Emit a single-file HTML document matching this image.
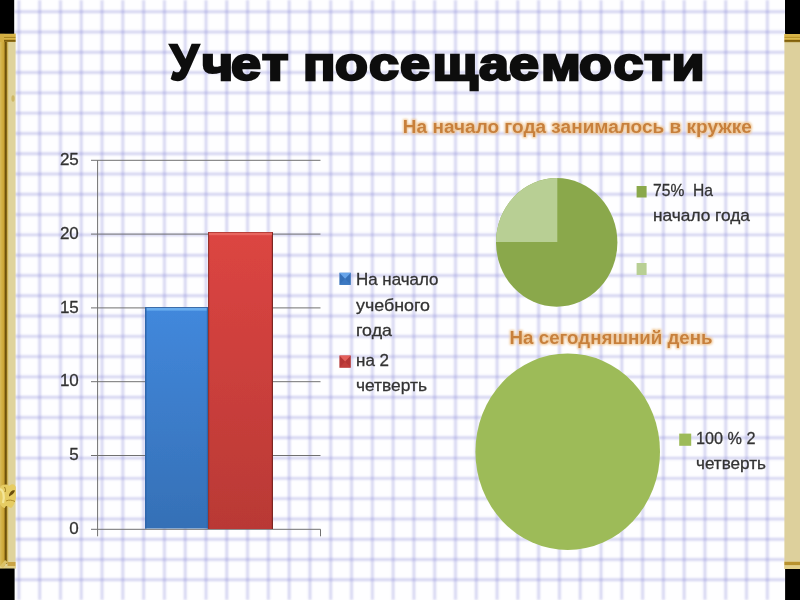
<!DOCTYPE html>
<html lang="ru"><head><meta charset="utf-8"><title>Учет посещаемости</title>
<style>
html,body{margin:0;padding:0;background:#000;}
body{width:800px;height:600px;overflow:hidden;}
svg{display:block;font-family:"Liberation Sans",sans-serif;}
</style></head><body>
<svg width="800" height="600" viewBox="0 0 800 600">
<defs>
<filter id="b1" x="-5%" y="-5%" width="110%" height="110%"><feGaussianBlur stdDeviation="0.85"/></filter>
<filter id="b2" x="-5%" y="-5%" width="110%" height="110%"><feGaussianBlur stdDeviation="0.5"/></filter>
<filter id="tglow" x="-5%" y="-40%" width="110%" height="180%"><feMorphology in="SourceAlpha" operator="dilate" radius="0.7" result="d"/><feGaussianBlur in="d" stdDeviation="1.2" result="g"/><feFlood flood-color="#f0c896"/><feComposite in2="g" operator="in" result="gc"/><feGaussianBlur in="SourceGraphic" stdDeviation="0.45" result="s"/><feMerge><feMergeNode in="gc"/><feMergeNode in="s"/></feMerge></filter>
<linearGradient id="gb" x1="0" y1="0" x2="0" y2="1"><stop offset="0" stop-color="#4288dc"/><stop offset="1" stop-color="#3570b6"/></linearGradient>
<linearGradient id="gr" x1="0" y1="0" x2="0" y2="1"><stop offset="0" stop-color="#dc4542"/><stop offset="1" stop-color="#b93935"/></linearGradient>
<linearGradient id="gold" x1="0" y1="0" x2="1" y2="0"><stop offset="0" stop-color="#d9bb55"/><stop offset="0.28" stop-color="#c9a63c"/><stop offset="0.3" stop-color="#8a6a14"/><stop offset="0.48" stop-color="#a8862a"/><stop offset="0.5" stop-color="#e0d29c"/><stop offset="1" stop-color="#d8ca92"/></linearGradient>
<linearGradient id="goldL" x1="0" y1="0" x2="1" y2="0"><stop offset="0" stop-color="#dcc268"/><stop offset="0.5" stop-color="#d2b044"/><stop offset="1" stop-color="#c59c2c"/></linearGradient>
<linearGradient id="darkL" x1="0" y1="0" x2="1" y2="0"><stop offset="0" stop-color="#5e4206"/><stop offset="1" stop-color="#93751e"/></linearGradient>
<linearGradient id="bandT" x1="0" y1="0" x2="0" y2="1"><stop offset="0" stop-color="#d9b84e"/><stop offset="0.38" stop-color="#d2ab3e"/><stop offset="0.46" stop-color="#a8841e"/><stop offset="0.55" stop-color="#dcbc50"/><stop offset="0.7" stop-color="#caa236"/><stop offset="0.8" stop-color="#7a5a0c"/><stop offset="1" stop-color="#9a7a20"/></linearGradient>
<linearGradient id="bandB" x1="0" y1="0" x2="0" y2="1"><stop offset="0" stop-color="#d8c078"/><stop offset="0.12" stop-color="#b8922e"/><stop offset="0.45" stop-color="#b8922e"/><stop offset="0.55" stop-color="#e2cf8a"/><stop offset="1" stop-color="#e2cf8a"/></linearGradient>
</defs>
<rect width="800" height="600" fill="#000"/>
<!-- paper -->
<rect x="14" y="0" width="771.5" height="600" fill="#fefeff"/>
<g stroke="#8888d8" stroke-opacity="0.40" stroke-width="2.4" filter="url(#b1)">
<line x1="18.90" y1="0" x2="18.90" y2="600"/>
<line x1="39.69" y1="0" x2="39.69" y2="600"/>
<line x1="60.48" y1="0" x2="60.48" y2="600"/>
<line x1="81.27" y1="0" x2="81.27" y2="600"/>
<line x1="102.06" y1="0" x2="102.06" y2="600"/>
<line x1="122.85" y1="0" x2="122.85" y2="600"/>
<line x1="143.64" y1="0" x2="143.64" y2="600"/>
<line x1="164.43" y1="0" x2="164.43" y2="600"/>
<line x1="185.22" y1="0" x2="185.22" y2="600"/>
<line x1="206.01" y1="0" x2="206.01" y2="600"/>
<line x1="226.80" y1="0" x2="226.80" y2="600"/>
<line x1="247.59" y1="0" x2="247.59" y2="600"/>
<line x1="268.38" y1="0" x2="268.38" y2="600"/>
<line x1="289.17" y1="0" x2="289.17" y2="600"/>
<line x1="309.96" y1="0" x2="309.96" y2="600"/>
<line x1="330.75" y1="0" x2="330.75" y2="600"/>
<line x1="351.54" y1="0" x2="351.54" y2="600"/>
<line x1="372.33" y1="0" x2="372.33" y2="600"/>
<line x1="393.12" y1="0" x2="393.12" y2="600"/>
<line x1="413.91" y1="0" x2="413.91" y2="600"/>
<line x1="434.70" y1="0" x2="434.70" y2="600"/>
<line x1="455.49" y1="0" x2="455.49" y2="600"/>
<line x1="476.28" y1="0" x2="476.28" y2="600"/>
<line x1="497.07" y1="0" x2="497.07" y2="600"/>
<line x1="517.86" y1="0" x2="517.86" y2="600"/>
<line x1="538.65" y1="0" x2="538.65" y2="600"/>
<line x1="559.44" y1="0" x2="559.44" y2="600"/>
<line x1="580.23" y1="0" x2="580.23" y2="600"/>
<line x1="601.02" y1="0" x2="601.02" y2="600"/>
<line x1="621.81" y1="0" x2="621.81" y2="600"/>
<line x1="642.60" y1="0" x2="642.60" y2="600"/>
<line x1="663.39" y1="0" x2="663.39" y2="600"/>
<line x1="684.18" y1="0" x2="684.18" y2="600"/>
<line x1="704.97" y1="0" x2="704.97" y2="600"/>
<line x1="725.76" y1="0" x2="725.76" y2="600"/>
<line x1="746.55" y1="0" x2="746.55" y2="600"/>
<line x1="767.34" y1="0" x2="767.34" y2="600"/>
<line x1="14" y1="11.70" x2="786" y2="11.70"/>
<line x1="14" y1="31.99" x2="786" y2="31.99"/>
<line x1="14" y1="52.28" x2="786" y2="52.28"/>
<line x1="14" y1="72.57" x2="786" y2="72.57"/>
<line x1="14" y1="92.86" x2="786" y2="92.86"/>
<line x1="14" y1="113.15" x2="786" y2="113.15"/>
<line x1="14" y1="133.44" x2="786" y2="133.44"/>
<line x1="14" y1="153.73" x2="786" y2="153.73"/>
<line x1="14" y1="174.02" x2="786" y2="174.02"/>
<line x1="14" y1="194.31" x2="786" y2="194.31"/>
<line x1="14" y1="214.60" x2="786" y2="214.60"/>
<line x1="14" y1="234.89" x2="786" y2="234.89"/>
<line x1="14" y1="255.18" x2="786" y2="255.18"/>
<line x1="14" y1="275.47" x2="786" y2="275.47"/>
<line x1="14" y1="295.76" x2="786" y2="295.76"/>
<line x1="14" y1="316.05" x2="786" y2="316.05"/>
<line x1="14" y1="336.34" x2="786" y2="336.34"/>
<line x1="14" y1="356.63" x2="786" y2="356.63"/>
<line x1="14" y1="376.92" x2="786" y2="376.92"/>
<line x1="14" y1="397.21" x2="786" y2="397.21"/>
<line x1="14" y1="417.50" x2="786" y2="417.50"/>
<line x1="14" y1="437.79" x2="786" y2="437.79"/>
<line x1="14" y1="458.08" x2="786" y2="458.08"/>
<line x1="14" y1="478.37" x2="786" y2="478.37"/>
<line x1="14" y1="498.66" x2="786" y2="498.66"/>
<line x1="14" y1="518.95" x2="786" y2="518.95"/>
<line x1="14" y1="539.24" x2="786" y2="539.24"/>
<line x1="14" y1="559.53" x2="786" y2="559.53"/>
<line x1="14" y1="579.82" x2="786" y2="579.82"/>
</g>
<!-- frame -->
<g filter="url(#b2)">
<rect x="-1" y="33.6" width="16.6" height="535" fill="#dfd39c"/>
<rect x="-1" y="33.6" width="6" height="535" fill="url(#goldL)"/>
<rect x="4.7" y="40" width="2.6" height="524" fill="url(#darkL)"/>
<rect x="7.2" y="41" width="1" height="522" fill="#cdb052"/>
<rect x="-1" y="33.6" width="16.6" height="8.4" fill="url(#bandT)"/>
<rect x="-1" y="33.6" width="5" height="8.4" fill="#d3ae42"/>
<rect x="7.5" y="562" width="8" height="4.2" fill="#c9a344"/>
<rect x="-1" y="566" width="16.6" height="2.6" fill="#e2cf86"/>
<path d="M0 566 L5 560 L7.5 562 L3 568 Z" fill="#dcc268"/>
<ellipse cx="13" cy="98.5" rx="1.6" ry="3.2" fill="#cdb766"/>
<!-- ornament -->
<path d="M0 487 C3 484 7 484 9 486 C12 483 15 484 15.8 487 L15.8 498 C15 503 13 507 11 508 C8 507 6 504 5 508 C3 508 1 506 0 504 Z" fill="#e6cc64"/>
<path d="M0 489 C3 490 5 495 3 503" stroke="#f4e69a" stroke-width="2.2" fill="none"/>
<path d="M9 495 C10 491 13 489.5 15 490.5 C14.5 493 12 495 9 496.5 Z" fill="#6a4e0c"/>
<path d="M6 501 C9 499.5 12 500 15 501.5" stroke="#b08e2c" stroke-width="1" fill="none"/>
<path d="M4.5 487 C5.5 489 6 490 5 492" stroke="#9a7a20" stroke-width="1" fill="none"/>
<rect x="784.4" y="34" width="16" height="535" fill="#ddd09c"/>
<rect x="784.4" y="34" width="16" height="8.2" fill="url(#bandT)"/>
<rect x="784.4" y="561.4" width="16" height="7.6" fill="url(#bandB)"/>
</g>
<rect x="0" y="0" width="14.2" height="33.6" fill="#000"/>
<rect x="785" y="0" width="15" height="33.8" fill="#000"/>
<rect x="0" y="568.6" width="14.6" height="32" fill="#000"/>
<rect x="785.2" y="569" width="15" height="32" fill="#000"/>
<!-- title -->
<text transform="scale(1.17 1)" x="145.30 172.65 197.44 223.93 247.86 258.97 286.32 315.38 341.88 369.57 409.40 435.04 462.39 494.87 524.27 550.43 573.93" y="79.9" font-size="46" font-weight="bold" fill="#0a0a0a" stroke="#0a0a0a" stroke-width="2.4" stroke-linejoin="miter" filter="url(#b2)"><tspan font-size="49.5" textLength="24.5" lengthAdjust="spacingAndGlyphs">У</tspan>чет посещаемости</text>
<!-- bar chart -->
<g stroke="#707070" stroke-width="1" filter="url(#b2)">
<line x1="91" y1="160.3" x2="320.5" y2="160.3"/>
<line x1="91" y1="234.1" x2="320.5" y2="234.1"/>
<line x1="91" y1="307.9" x2="320.5" y2="307.9"/>
<line x1="91" y1="381.7" x2="320.5" y2="381.7"/>
<line x1="91" y1="455.5" x2="320.5" y2="455.5"/>
<line x1="91" y1="529.3" x2="320.5" y2="529.3"/>
<line x1="97.6" y1="160.3" x2="97.6" y2="536.3"/>
<line x1="320.5" y1="529.3" x2="320.5" y2="536.3"/>
</g>
<g filter="url(#b2)">
<rect x="145" y="307.5" width="63" height="221" fill="url(#gb)"/>
<rect x="145" y="307.2" width="63" height="0.8" fill="#2f62a4"/>
<rect x="146" y="308" width="61" height="2.6" fill="#68acee"/>
<rect x="145" y="307.5" width="1.5" height="221" fill="#2f66ac"/>
<rect x="206.8" y="307.5" width="1.2" height="221" fill="#2f66ac"/>
<rect x="208" y="232" width="65" height="297" fill="url(#gr)"/>
<rect x="208" y="232" width="1.2" height="297" fill="#9a302c"/>
<rect x="271.8" y="232" width="1.2" height="297" fill="#7c2624"/>
<rect x="208" y="232" width="65" height="0.8" fill="#a03230"/>
<rect x="209" y="232.8" width="63" height="2.4" fill="#e8665e"/>
</g>
<g font-size="17" fill="#333" stroke="#333" stroke-width="0.3" filter="url(#b2)">
<text x="78.8" y="164.9" text-anchor="end">25</text>
<text x="78.8" y="238.7" text-anchor="end">20</text>
<text x="78.8" y="312.5" text-anchor="end">15</text>
<text x="78.8" y="386.3" text-anchor="end">10</text>
<text x="78.8" y="460.1" text-anchor="end">5</text>
<text x="78.8" y="533.9" text-anchor="end">0</text>
</g>
<!-- legend bar -->
<g filter="url(#b2)">
<rect x="339.4" y="272.8" width="11.4" height="12" fill="#3670b8"/>
<path d="M339.4 272.8 h11.4 l-5.7 6 Z" fill="#66a4ea"/>
<path d="M339.4 284.8 h11.4 l-5.7 -6 Z" fill="#3a78c2"/>
<rect x="339.4" y="355.6" width="11.4" height="12" fill="#b43634"/>
<path d="M339.4 355.6 h11.4 l-5.7 6 Z" fill="#e4605c"/>
<path d="M339.4 367.6 h11.4 l-5.7 -6 Z" fill="#c03c3a"/>
<g font-size="17" fill="#333" stroke="#333" stroke-width="0.3">
<text x="356" y="285.3" textLength="82.5" lengthAdjust="spacingAndGlyphs">На начало</text>
<text x="356" y="310.8" textLength="74" lengthAdjust="spacingAndGlyphs">учебного</text>
<text x="356" y="336" textLength="36" lengthAdjust="spacingAndGlyphs">года</text>
<text x="356" y="366" textLength="33" lengthAdjust="spacingAndGlyphs">на 2</text>
<text x="356" y="391.3" textLength="71" lengthAdjust="spacingAndGlyphs">четверть</text>
</g>
</g>
<!-- pie 1 -->
<g font-size="18" font-weight="bold">
<text x="402.8" y="132.6" textLength="349" lengthAdjust="spacingAndGlyphs" fill="#c8803a" filter="url(#tglow)">На начало года занималось в кружке</text>
<text x="509.6" y="344.4" textLength="203" lengthAdjust="spacingAndGlyphs" fill="#c8803a" filter="url(#tglow)">На сегодняшний день</text>
</g>
<g filter="url(#b2)">
<ellipse cx="556.7" cy="242.4" rx="60.7" ry="64.3" fill="#8aa84c"/>
<path d="M557.3 242 L496 242 A60.7 64.3 0 0 1 557.3 178.1 Z" fill="#b8cf94"/>
<rect x="636.6" y="186" width="10" height="11.5" fill="#8aa84c"/>
<rect x="636.6" y="263" width="10" height="12" fill="#b8cf94"/>
<ellipse cx="567.7" cy="451.7" rx="92.3" ry="98.3" fill="#9dbb59"/>
<rect x="679.2" y="433.6" width="12" height="12.2" fill="#9dbb59"/>
<g font-size="17" fill="#333" stroke="#333" stroke-width="0.3">
<text x="653" y="196" textLength="60" lengthAdjust="spacingAndGlyphs" xml:space="preserve">75%  На</text>
<text x="653" y="221" textLength="97" lengthAdjust="spacingAndGlyphs">начало года</text>
<text x="696" y="443.8" textLength="59.5" lengthAdjust="spacingAndGlyphs">100 % 2</text>
<text x="696" y="468.5" textLength="70" lengthAdjust="spacingAndGlyphs">четверть</text>
</g>
</g>
</svg>
</body></html>
